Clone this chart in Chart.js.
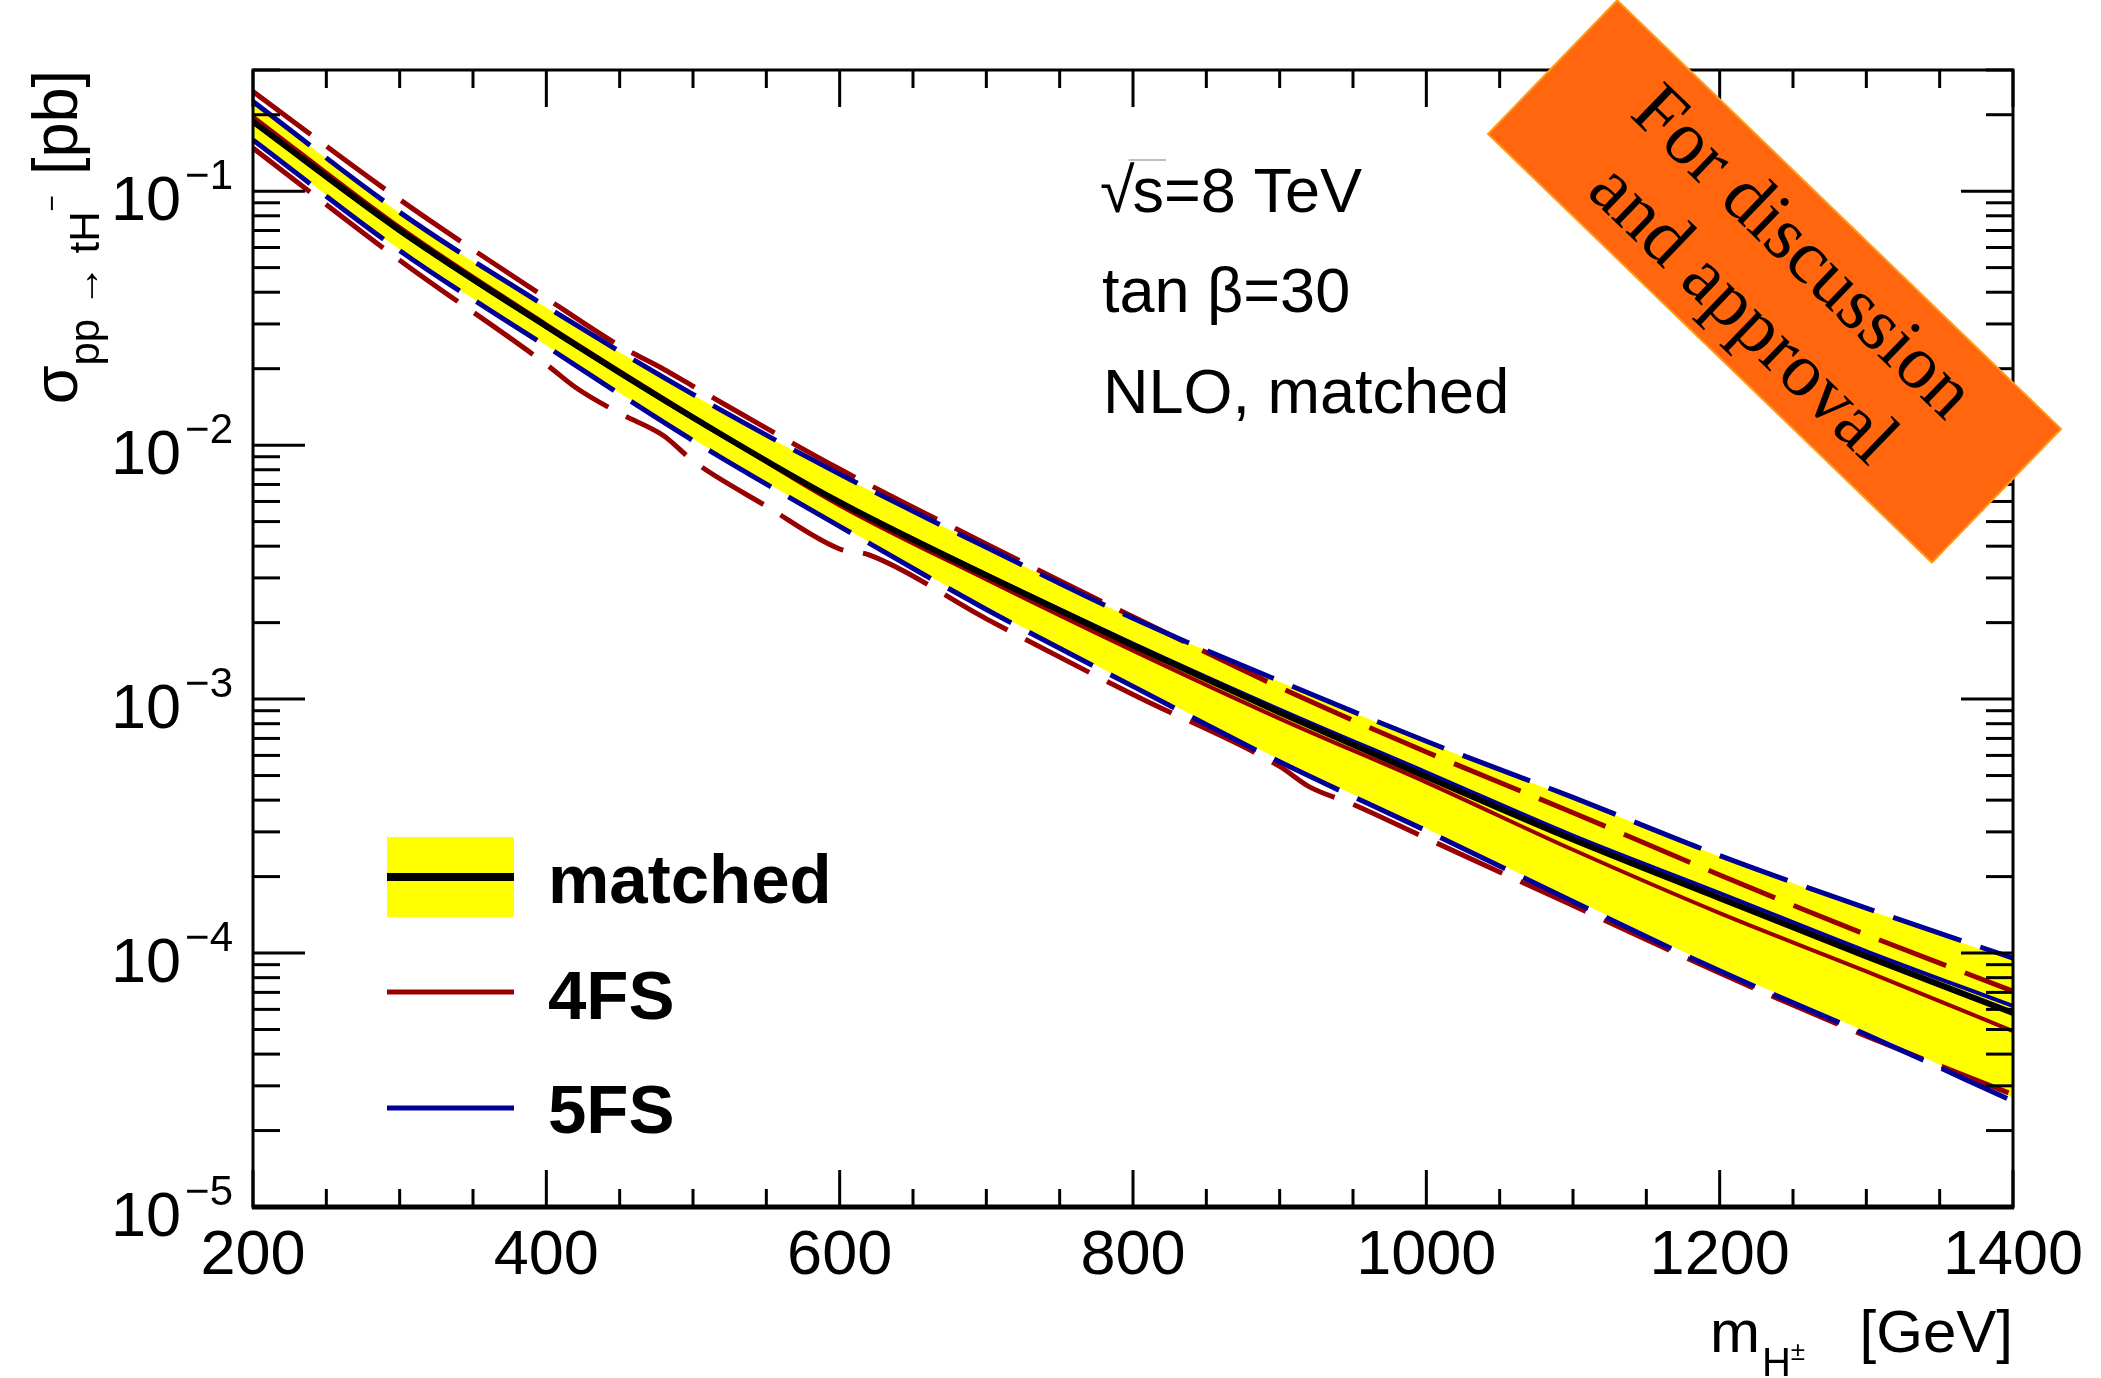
<!DOCTYPE html>
<html>
<head>
<meta charset="utf-8">
<script src="https://cdn.jsdelivr.net/npm/chart.js@4.4.1/dist/chart.umd.min.js"></script>
<style>
  html, body { margin: 0; padding: 0; background: #fff; }
</style>
</head>
<body>
<canvas id="grafico" width="2101" height="1378"></canvas>
<script>
// masas del H+ (GeV) y secciones eficaces (pb)
const masas = [200, 300, 400, 500, 600, 700, 800, 900, 1000, 1100, 1200, 1300, 1400]
const matchedCentral = [0.188, 0.0702, 0.0294, 0.01285, 0.00596, 0.00307, 0.001626, 0.000885, 0.000495, 0.00028, 0.0001644, 0.000097, 0.0000581]
const matchedUp = [0.2239, 0.082, 0.0348, 0.01574, 0.00762, 0.00394, 0.00207, 0.00117, 0.000676, 0.000406, 0.00024, 0.0001486, 0.0000933]
const matchedDown = [0.1607, 0.0589, 0.0247, 0.01057, 0.00485, 0.00229, 0.001143, 0.000578, 0.000309, 0.0001633, 0.0000871, 0.000049, 0.0000269]
const fs5Central = [0.1862, 0.0695, 0.0291, 0.01274, 0.00596, 0.0031, 0.001656, 0.00091, 0.000515, 0.00029, 0.0001722, 0.0001016, 0.0000618]
const fs5Up = [0.2254, 0.0826, 0.0351, 0.01585, 0.00769, 0.00396, 0.00208, 0.001178, 0.000682, 0.00041, 0.000242, 0.0001503, 0.0000955]
const fs5Down = [0.1592, 0.0583, 0.0245, 0.01042, 0.00479, 0.002254, 0.001122, 0.000566, 0.000303, 0.0001596, 0.0000851, 0.0000478, 0.0000261]
const fs4Central = [0.1968, 0.0721, 0.0299, 0.01297, 0.00579, 0.00296, 0.001552, 0.000838, 0.00047, 0.000255, 0.0001436, 0.0000847, 0.0000493]
const masas4FSUp = [200, 300, 400, 450, 480, 500, 600, 700, 800, 900, 1000, 1100, 1200, 1300, 1400]
const fs4Up = [0.2466, 0.0927, 0.0379, 0.0246, 0.0199, 0.01706, 0.00805, 0.00408, 0.00211, 0.001112, 0.000619, 0.000357, 0.000203, 0.000118, 0.0000708]
const masas4FSDown = [200, 300, 400, 420, 450, 480, 500, 550, 600, 620, 700, 800, 900, 920, 950, 1000, 1100, 1200, 1300, 1400]
const fs4Down = [0.1479, 0.0535, 0.0208, 0.01687, 0.01334, 0.01089, 0.00867, 0.00575, 0.0039, 0.0037, 0.00207, 0.001042, 0.000543, 0.000452, 0.000385, 0.000283, 0.0001538, 0.0000834, 0.0000471, 0.0000277]

// ejes
const xTicks = [200, 400, 600, 800, 1000, 1200, 1400]
const yTickExp = [-1, -2, -3, -4, -5]
const textos = ["s=8 TeV", "tan \u03b2=30", "NLO, matched"]
const leyenda = ["matched", "4FS", "5FS"]

const rojo = "#990000"
const azul = "#000099"
const amarillo = "#ffff00"
const sans = '"Liberation Sans", Arial, sans-serif'

const puntos = (xs, ys) => xs.map((x, i) => ({ x: x, y: ys[i] }))

const linea = (ctx, x1, y1, x2, y2) => {
    ctx.beginPath()
    ctx.moveTo(x1, y1)
    ctx.lineTo(x2, y2)
    ctx.stroke()
}

const decoracion = {
    id: "decoracion",
    beforeDraw: (grafico) => {
        const ctx = grafico.ctx
        ctx.save()
        ctx.fillStyle = "#fff"
        ctx.fillRect(0, 0, grafico.width, grafico.height)
        ctx.restore()
    },
    afterDatasetsDraw: (grafico) => {
        const ctx = grafico.ctx
        const area = grafico.chartArea
        const ex = grafico.scales.x
        const ey = grafico.scales.y
        ctx.save()
        ctx.strokeStyle = "#000"
        ctx.lineWidth = 3
        // marcas del eje x (abajo y arriba, hacia adentro)
        for (let m = 200; m <= 1400; m += 50) {
            const px = ex.getPixelForValue(m)
            const largo = m % 200 === 0 ? 37 : 18
            linea(ctx, px, area.bottom, px, area.bottom - largo)
            linea(ctx, px, area.top, px, area.top + largo)
        }
        // marcas del eje y logaritmico
        for (let k = -5; k <= -1; k++) {
            for (let j = 1; j <= 9; j++) {
                const v = j * Math.pow(10, k)
                if (v > ey.max * 1.0001) break
                const py = ey.getPixelForValue(v)
                const largo = j === 1 ? 52 : 27
                linea(ctx, area.left, py, area.left + largo, py)
                linea(ctx, area.right, py, area.right - largo, py)
            }
        }
        ctx.strokeRect(area.left, area.top, area.right - area.left, area.bottom - area.top)
        ctx.lineWidth = 5
        linea(ctx, area.left - 1, area.bottom, area.right + 1, area.bottom)
        ctx.restore()
    },
    afterDraw: (grafico) => {
        const ctx = grafico.ctx
        const area = grafico.chartArea
        const ey = grafico.scales.y
        ctx.save()
        ctx.fillStyle = "#000"
        ctx.textBaseline = "alphabetic"

        // etiquetas del eje y: 10^-n
        yTickExp.forEach((e) => {
            const py = ey.getPixelForValue(Math.pow(10, e))
            ctx.textAlign = "right"
            ctx.font = "42px " + sans
            const sup = "\u2212" + Math.abs(e)
            const anchoSup = ctx.measureText(sup).width
            ctx.fillText(sup, area.left - 20, py - 2)
            ctx.font = "63px " + sans
            ctx.fillText("10", area.left - 24 - anchoSup, py + 29)
        })

        // titulo eje x
        ctx.textAlign = "left"
        ctx.font = "60px " + sans
        ctx.fillText("m", 1710, 1352)
        const anchoM = ctx.measureText("m").width
        ctx.font = "40px " + sans
        ctx.fillText("H", 1712 + anchoM, 1376)
        const anchoH = ctx.measureText("H").width
        ctx.font = "26px " + sans
        ctx.fillText("\u00b1", 1712 + anchoM + anchoH, 1360)
        ctx.textAlign = "right"
        ctx.font = "60px " + sans
        ctx.fillText("[GeV]", area.right, 1352)

        // titulo eje y (rotado)
        ctx.save()
        const partes = [
            { t: "\u03c3", f: 63, dy: 0, gap: 0 },
            { t: "pp \u2192 tH", f: 42, dy: 22, gap: 0 },
            { t: "\u2212", f: 28, dy: -16, gap: 0 },
            { t: "[pb]", f: 63, dy: 0, gap: 20 }
        ]
        let total = 0
        partes.forEach((p) => {
            ctx.font = p.f + "px " + sans
            p.w = ctx.measureText(p.t).width
            total += p.w + p.gap
        })
        ctx.translate(77, area.top + total)
        ctx.rotate(-Math.PI / 2)
        ctx.textAlign = "left"
        let pos = 0
        partes.forEach((p) => {
            pos += p.gap
            ctx.font = p.f + "px " + sans
            ctx.fillText(p.t, pos, p.dy)
            pos += p.w
        })
        ctx.restore()

        // textos del panel
        ctx.textAlign = "left"
        ctx.font = "63px " + sans
        ctx.fillText("\u221a", 1100, 212)
        const anchoRaiz = ctx.measureText("\u221a").width
        ctx.fillText(textos[0], 1100 + anchoRaiz - 2, 212)
        const anchoS = ctx.measureText("s").width
        ctx.strokeStyle = "#aaa"
        ctx.lineWidth = 1.5
        linea(ctx, 1100 + anchoRaiz - 6, 160, 1100 + anchoRaiz + anchoS, 160)
        ctx.fillText(textos[1], 1102, 312)
        ctx.fillText(textos[2], 1103, 413)

        // leyenda
        ctx.fillStyle = amarillo
        ctx.fillRect(387, 837, 127, 80)
        ctx.lineWidth = 8
        ctx.strokeStyle = "#000"
        linea(ctx, 387, 877, 514, 877)
        ctx.lineWidth = 5
        ctx.strokeStyle = rojo
        linea(ctx, 387, 992, 514, 992)
        ctx.strokeStyle = azul
        linea(ctx, 387, 1108, 514, 1108)
        ctx.fillStyle = "#000"
        ctx.font = "bold 69px " + sans
        ctx.fillText(leyenda[0], 548, 903)
        ctx.fillText(leyenda[1], 548, 1019)
        ctx.fillText(leyenda[2], 548, 1133)

        // banda naranja
        ctx.save()
        ctx.translate(1774.5, 281.5)
        ctx.rotate(44 * Math.PI / 180)
        ctx.fillStyle = "#ff660d"
        ctx.fillRect(-308.5, -93, 617, 186)
        ctx.strokeStyle = "#ff9a1a"
        ctx.lineWidth = 2
        ctx.strokeRect(-308.5, -93, 617, 186)
        ctx.fillStyle = "#000"
        ctx.textAlign = "center"
        ctx.textBaseline = "middle"
        ctx.font = '76px "Liberation Serif", "Times New Roman", serif'
        ctx.fillText("For discussion", 0, -38)
        ctx.fillText("and approval", 0, 48)
        ctx.restore()

        ctx.restore()
    }
}

const base = { pointRadius: 0, pointHoverRadius: 0, fill: false, cubicInterpolationMode: "monotone" }

const canvasUno = document.getElementById("grafico")

const graficoUno = new Chart(canvasUno, {
    type: "line",
    data: {
        datasets: [
            { ...base, label: "matched up", data: puntos(masas, matchedUp), borderColor: "rgba(0,0,0,0)", borderWidth: 1, backgroundColor: amarillo, fill: "+1", order: 10 },
            { ...base, label: "matched down", data: puntos(masas, matchedDown), borderColor: "rgba(0,0,0,0)", borderWidth: 1, order: 10 },
            { ...base, label: "4FS up", data: puntos(masas4FSUp, fs4Up), borderColor: rojo, borderWidth: 5, borderDash: [72, 20], order: 4 },
            { ...base, label: "4FS down", data: puntos(masas4FSDown, fs4Down), borderColor: rojo, borderWidth: 5, borderDash: [72, 20], order: 4 },
            { ...base, label: "5FS up", data: puntos(masas, fs5Up), borderColor: azul, borderWidth: 5, borderDash: [72, 20], order: 3 },
            { ...base, label: "5FS down", data: puntos(masas, fs5Down), borderColor: azul, borderWidth: 5, borderDash: [72, 20], order: 3 },
            { ...base, label: "4FS", data: puntos(masas, fs4Central), borderColor: rojo, borderWidth: 4, order: 2 },
            { ...base, label: "5FS", data: puntos(masas, fs5Central), borderColor: azul, borderWidth: 4, order: 2 },
            { ...base, label: "matched", data: puntos(masas, matchedCentral), borderColor: "#000", borderWidth: 6, order: 0 }
        ]
    },
    options: {
        responsive: false,
        animation: false,
        devicePixelRatio: 1,
        layout: { padding: { top: 70, right: 88, left: 0, bottom: 0 } },
        plugins: { legend: { display: false }, tooltip: { enabled: false } },
        scales: {
            x: {
                type: "linear",
                min: 200,
                max: 1400,
                grid: { display: false, drawTicks: false },
                border: { display: false },
                afterBuildTicks: (escala) => { escala.ticks = xTicks.map((v) => ({ value: v })) },
                afterFit: (escala) => { escala.height = 171 },
                ticks: {
                    color: "#000",
                    font: { family: "Liberation Sans", size: 63 },
                    padding: 12,
                    maxRotation: 0,
                    autoSkip: false,
                    callback: (valor) => String(valor)
                }
            },
            y: {
                type: "logarithmic",
                min: 1e-5,
                max: 0.3,
                grid: { display: false, drawTicks: false },
                border: { display: false },
                afterFit: (escala) => { escala.width = 253 },
                ticks: { display: false }
            }
        }
    },
    plugins: [decoracion]
})
</script>
</body>
</html>
